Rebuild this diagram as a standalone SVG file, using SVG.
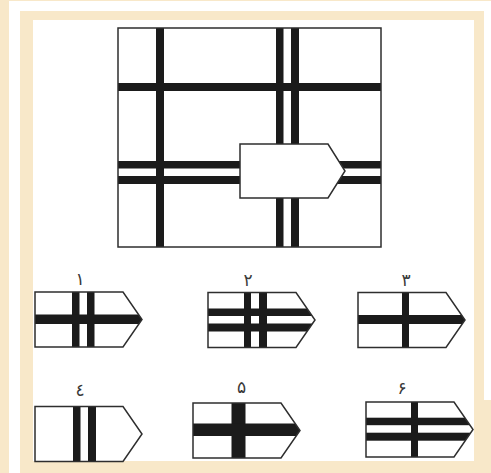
<svg xmlns="http://www.w3.org/2000/svg" width="491" height="473" viewBox="0 0 491 473">
<style>
.bar{fill:#1b1b1b}
.outline{fill:none;stroke:#2e2e2e;stroke-width:1.5}
.pent{fill:#ffffff;stroke:#2e2e2e;stroke-width:1.5}
.lbl{font-family:"DejaVu Sans","Noto Sans",sans-serif;font-size:17px;fill:#3a3a3a;text-anchor:middle}
.beige{fill:#f8e8c9}
</style>
<defs>
<clipPath id="pc"><path d="M0,0H88L107,27.5L88,55H0Z"/></clipPath>
<path id="pe" d="M0,0H88L107,27.5L88,55H0Z"/>
</defs>
<rect width="491" height="473" fill="#ffffff"/>
<g id="frame">
<rect class="beige" x="0" y="0" width="491" height="1"/>
<rect class="beige" x="0" y="0" width="9" height="473"/>
<path class="beige" fill-rule="evenodd" d="M20,11H484V473H20Z M33,20V461H474V20Z"/>
<rect class="beige" x="484" y="400" width="7" height="73"/>
</g>
<g id="main">
<rect x="118" y="28" width="263" height="219" fill="#fff"/>
<rect class="bar" x="156" y="28" width="8" height="219"/>
<rect class="bar" x="276" y="28" width="7.5" height="219"/>
<rect class="bar" x="291" y="28" width="8" height="219"/>
<rect class="bar" x="118" y="83" width="263" height="8"/>
<rect class="bar" x="118" y="161" width="263" height="7.5"/>
<rect class="bar" x="118" y="176" width="263" height="8"/>
<rect class="outline" x="118" y="28" width="263" height="219"/>
<path class="pent" d="M240,144H328L345,171L328,198H240Z"/>
</g>
<g id="option1" transform="translate(35,292)">
<use href="#pe" fill="#fff"/>
<g clip-path="url(#pc)">
<rect class="bar" x="37" y="0" width="7.5" height="55"/>
<rect class="bar" x="52" y="0" width="7.5" height="55"/>
<rect class="bar" x="0" y="22.5" width="107" height="9.5"/>
</g>
<use href="#pe" class="outline"/>
<text class="lbl" x="45" y="-7">١</text>
</g>
<g id="option2" transform="translate(208,292.5)">
<use href="#pe" fill="#fff"/>
<g clip-path="url(#pc)">
<rect class="bar" x="36" y="0" width="7" height="55"/>
<rect class="bar" x="51" y="0" width="8" height="55"/>
<rect class="bar" x="0" y="16" width="107" height="7.5"/>
<rect class="bar" x="0" y="31" width="107" height="8"/>
</g>
<use href="#pe" class="outline"/>
<text class="lbl" x="40" y="-7">٢</text>
</g>
<g id="option3" transform="translate(358,292.5)">
<use href="#pe" fill="#fff"/>
<g clip-path="url(#pc)">
<rect class="bar" x="44" y="0" width="7" height="55"/>
<rect class="bar" x="0" y="22.5" width="107" height="9"/>
</g>
<use href="#pe" class="outline"/>
<text class="lbl" x="48" y="-7">٣</text>
</g>
<g id="option4" transform="translate(35,406.5)">
<use href="#pe" fill="#fff"/>
<g clip-path="url(#pc)">
<rect class="bar" x="38" y="0" width="7.5" height="55"/>
<rect class="bar" x="53" y="0" width="8" height="55"/>
</g>
<use href="#pe" class="outline"/>
<text class="lbl" x="45" y="-11">٤</text>
</g>
<g id="option5" transform="translate(193,403)">
<use href="#pe" fill="#fff"/>
<g clip-path="url(#pc)">
<rect class="bar" x="38.5" y="0" width="14" height="55"/>
<rect class="bar" x="0" y="20.5" width="107" height="12.5"/>
</g>
<use href="#pe" class="outline"/>
<text class="lbl" x="48.5" y="-10">۵</text>
</g>
<g id="option6" transform="translate(366,402)">
<use href="#pe" fill="#fff"/>
<g clip-path="url(#pc)">
<rect class="bar" x="45" y="0" width="7" height="55"/>
<rect class="bar" x="0" y="15.7" width="107" height="7.5"/>
<rect class="bar" x="0" y="30.7" width="107" height="8"/>
</g>
<use href="#pe" class="outline"/>
<text class="lbl" x="36" y="-8">۶</text>
</g>
<g id="connectors"/>
</svg>
